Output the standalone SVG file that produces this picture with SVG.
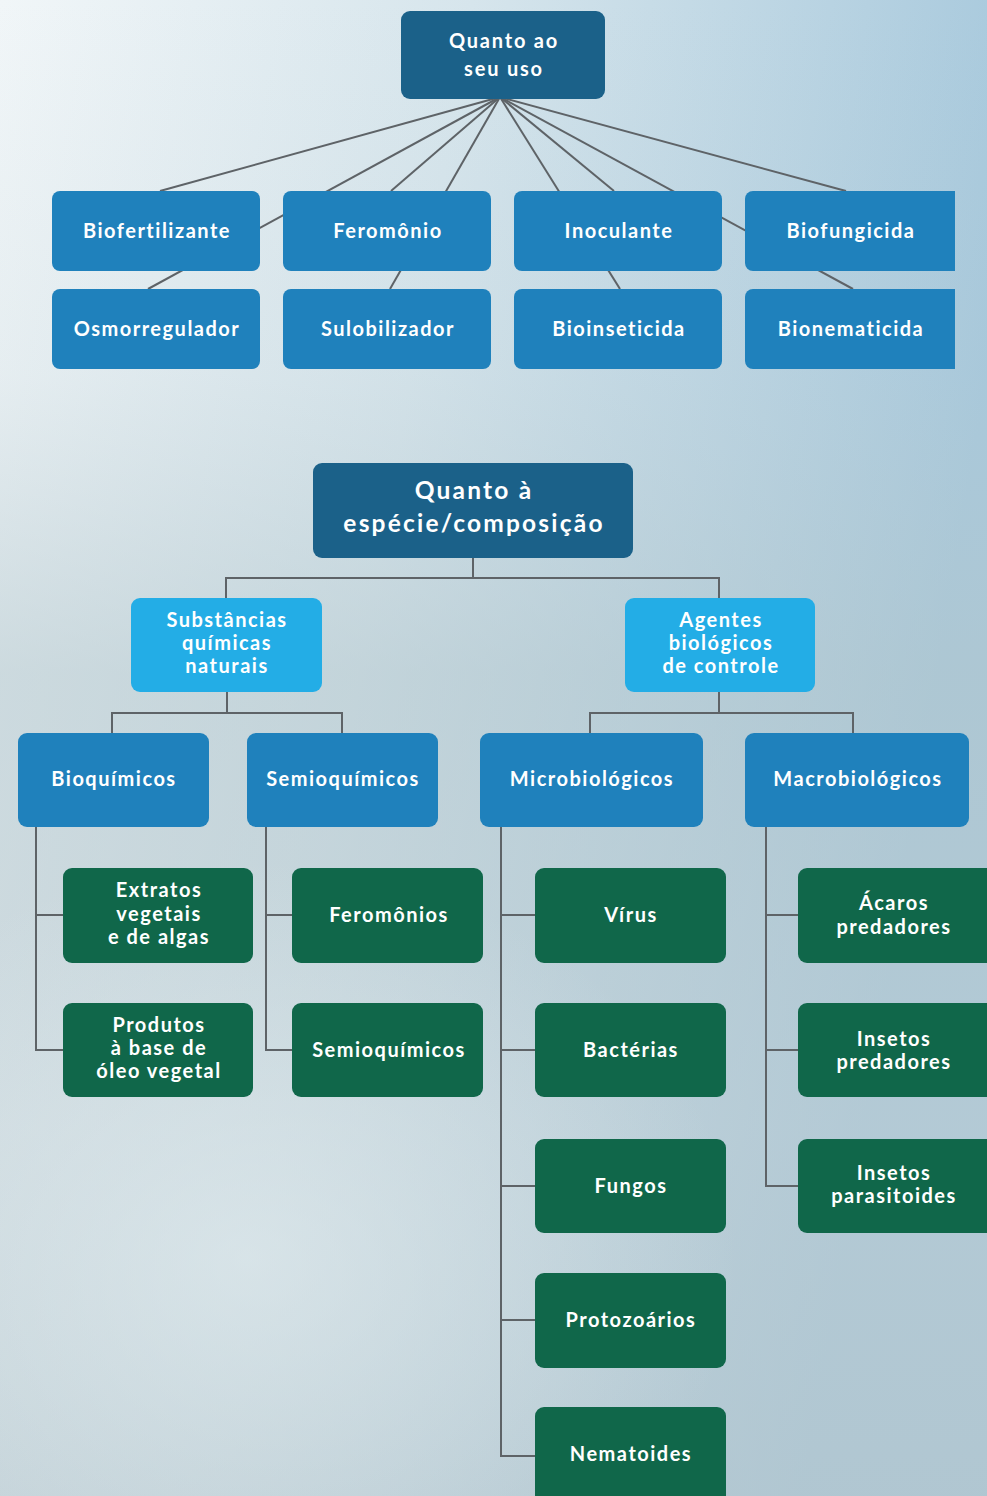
<svg xmlns="http://www.w3.org/2000/svg" width="987" height="1496" viewBox="0 0 987 1496">
<defs>
<linearGradient id="bgH" x1="0" y1="0" x2="1" y2="0.25">
<stop offset="0" stop-color="#f1f6f8"/>
<stop offset="0.45" stop-color="#d6e5ec"/>
<stop offset="1" stop-color="#a6c8dc"/>
</linearGradient>
<linearGradient id="bgV" x1="0" y1="0" x2="0" y2="1">
<stop offset="0" stop-color="#b8c9cf" stop-opacity="0"/>
<stop offset="0.25" stop-color="#b8c9cf" stop-opacity="0.15"/>
<stop offset="0.45" stop-color="#b3c6cc" stop-opacity="0.55"/>
<stop offset="0.75" stop-color="#bccbd1" stop-opacity="0.6"/>
<stop offset="1" stop-color="#b5c6cd" stop-opacity="0.7"/>
</linearGradient>
<radialGradient id="glow" cx="0.25" cy="0.7" r="0.5">
<stop offset="0" stop-color="#e4eef1" stop-opacity="0.6"/>
<stop offset="1" stop-color="#e4eef1" stop-opacity="0"/>
</radialGradient>
<clipPath id="topclip"><rect x="0" y="0" width="955" height="400"/></clipPath>
</defs>
<style>
.bg{fill:url(#bgH)}
.ln{stroke:#5e6367;stroke-width:2;fill:none}
.root{fill:#1b6189}
.mid{fill:#1f81bc}
.lite{fill:#23ade6}
.leaf{fill:#10674a}
text{font-family:Lato,"Open Sans","Liberation Sans",sans-serif;font-weight:700;fill:#ffffff;text-anchor:middle}
.t18{font-size:20px;letter-spacing:1.8px}
.t19{font-size:20px;letter-spacing:1.5px}
.t24{font-size:24.5px;letter-spacing:2.2px}
</style>
<rect class="bg" x="0" y="0" width="987" height="1496"/>
<rect fill="url(#bgV)" x="0" y="0" width="987" height="1496"/>
<rect fill="url(#glow)" x="0" y="700" width="987" height="796"/>

<g id="connectors">
<line class="ln" x1="500" y1="97" x2="160" y2="191"/>
<line class="ln" x1="500" y1="97" x2="148" y2="289"/>
<line class="ln" x1="500" y1="97" x2="391" y2="191"/>
<line class="ln" x1="500" y1="97" x2="390" y2="289"/>
<line class="ln" x1="500" y1="97" x2="614" y2="191"/>
<line class="ln" x1="500" y1="97" x2="620" y2="289"/>
<line class="ln" x1="500" y1="97" x2="846" y2="191"/>
<line class="ln" x1="500" y1="97" x2="853" y2="289"/>
<path class="ln" d="M473 557 V578 M226 598 V578 H719 V598"/>
<path class="ln" d="M227 692 V713 M112 733 V713 H342 V733"/>
<path class="ln" d="M719 692 V713 M590 733 V713 H853 V733"/>
<path class="ln" d="M36 826 V1050 H63 M36 915 H63"/>
<path class="ln" d="M266 826 V1050 H292 M266 915 H292"/>
<path class="ln" d="M501 826 V1456 H535 M501 915 H535 M501 1050 H535 M501 1186 H535 M501 1320 H535"/>
<path class="ln" d="M766 826 V1186 H798 M766 915 H798 M766 1050 H798"/>
</g>

<g id="n-uso">
<rect class="root" x="401" y="11" width="204" height="88" rx="9"/>
<text class="t18" x="504" y="48">Quanto ao</text>
<text class="t18" x="504" y="76">seu uso</text>
</g>
<g clip-path="url(#topclip)">
<g id="n-biofertilizante"><rect class="mid" x="52" y="191" width="208" height="80" rx="8"/><text class="t19" x="157" y="238">Biofertilizante</text></g>
<g id="n-feromonio"><rect class="mid" x="283" y="191" width="208" height="80" rx="8"/><text class="t19" x="388" y="238">Feromônio</text></g>
<g id="n-inoculante"><rect class="mid" x="514" y="191" width="208" height="80" rx="8"/><text class="t19" x="619" y="238">Inoculante</text></g>
<g id="n-biofungicida"><rect class="mid" x="745" y="191" width="230" height="80" rx="8"/><text class="t19" x="851" y="238">Biofungicida</text></g>
<g id="n-osmorregulador"><rect class="mid" x="52" y="289" width="208" height="80" rx="8"/><text class="t19" x="157" y="336">Osmorregulador</text></g>
<g id="n-sulobilizador"><rect class="mid" x="283" y="289" width="208" height="80" rx="8"/><text class="t19" x="388" y="336">Sulobilizador</text></g>
<g id="n-bioinseticida"><rect class="mid" x="514" y="289" width="208" height="80" rx="8"/><text class="t19" x="619" y="336">Bioinseticida</text></g>
<g id="n-bionematicida"><rect class="mid" x="745" y="289" width="230" height="80" rx="8"/><text class="t19" x="851" y="336">Bionematicida</text></g>
</g>

<g id="n-especie">
<rect class="root" x="313" y="463" width="320" height="95" rx="9"/>
<text class="t24" x="474" y="499">Quanto à</text>
<text class="t24" x="474" y="532">espécie/composição</text>
</g>
<g id="n-substancias">
<rect class="lite" x="131" y="598" width="191" height="94" rx="9"/>
<text class="t19" x="227" y="627">Substâncias</text>
<text class="t19" x="227" y="650">químicas</text>
<text class="t19" x="227" y="673">naturais</text>
</g>
<g id="n-agentes">
<rect class="lite" x="625" y="598" width="190" height="94" rx="9"/>
<text class="t19" x="721" y="627">Agentes</text>
<text class="t19" x="721" y="650">biológicos</text>
<text class="t19" x="721" y="673">de controle</text>
</g>
<g id="n-bioquimicos"><rect class="mid" x="18" y="733" width="191" height="94" rx="9"/><text class="t19" x="114" y="786">Bioquímicos</text></g>
<g id="n-semioquimicos"><rect class="mid" x="247" y="733" width="191" height="94" rx="9"/><text class="t19" x="343" y="786">Semioquímicos</text></g>
<g id="n-microbiologicos"><rect class="mid" x="480" y="733" width="223" height="94" rx="9"/><text class="t19" x="592" y="786">Microbiológicos</text></g>
<g id="n-macrobiologicos"><rect class="mid" x="745" y="733" width="224" height="94" rx="9"/><text class="t19" x="858" y="786">Macrobiológicos</text></g>

<g id="n-extratos"><rect class="leaf" x="63" y="868" width="190" height="95" rx="9"/>
<text class="t19" x="159" y="897">Extratos</text><text class="t19" x="159" y="921">vegetais</text><text class="t19" x="159" y="944">e de algas</text></g>
<g id="n-produtos"><rect class="leaf" x="63" y="1003" width="190" height="94" rx="9"/>
<text class="t19" x="159" y="1032">Produtos</text><text class="t19" x="159" y="1055">à base de</text><text class="t19" x="159" y="1078">óleo vegetal</text></g>
<g id="n-feromonios"><rect class="leaf" x="292" y="868" width="191" height="95" rx="9"/><text class="t19" x="389" y="922">Feromônios</text></g>
<g id="n-semioquimicos2"><rect class="leaf" x="292" y="1003" width="191" height="94" rx="9"/><text class="t19" x="389" y="1057">Semioquímicos</text></g>
<g id="n-virus"><rect class="leaf" x="535" y="868" width="191" height="95" rx="9"/><text class="t19" x="631" y="922">Vírus</text></g>
<g id="n-bacterias"><rect class="leaf" x="535" y="1003" width="191" height="94" rx="9"/><text class="t19" x="631" y="1057">Bactérias</text></g>
<g id="n-fungos"><rect class="leaf" x="535" y="1139" width="191" height="94" rx="9"/><text class="t19" x="631" y="1193">Fungos</text></g>
<g id="n-protozoarios"><rect class="leaf" x="535" y="1273" width="191" height="95" rx="9"/><text class="t19" x="631" y="1327">Protozoários</text></g>
<g id="n-nematoides"><rect class="leaf" x="535" y="1407" width="191" height="110" rx="9"/><text class="t19" x="631" y="1461">Nematoides</text></g>
<g id="n-acaros"><rect class="leaf" x="798" y="868" width="210" height="95" rx="9"/>
<text class="t19" x="894" y="910">Ácaros</text><text class="t19" x="894" y="934">predadores</text></g>
<g id="n-insetos-pred"><rect class="leaf" x="798" y="1003" width="210" height="94" rx="9"/>
<text class="t19" x="894" y="1046">Insetos</text><text class="t19" x="894" y="1069">predadores</text></g>
<g id="n-insetos-para"><rect class="leaf" x="798" y="1139" width="210" height="94" rx="9"/>
<text class="t19" x="894" y="1180">Insetos</text><text class="t19" x="894" y="1203">parasitoides</text></g>
</svg>
